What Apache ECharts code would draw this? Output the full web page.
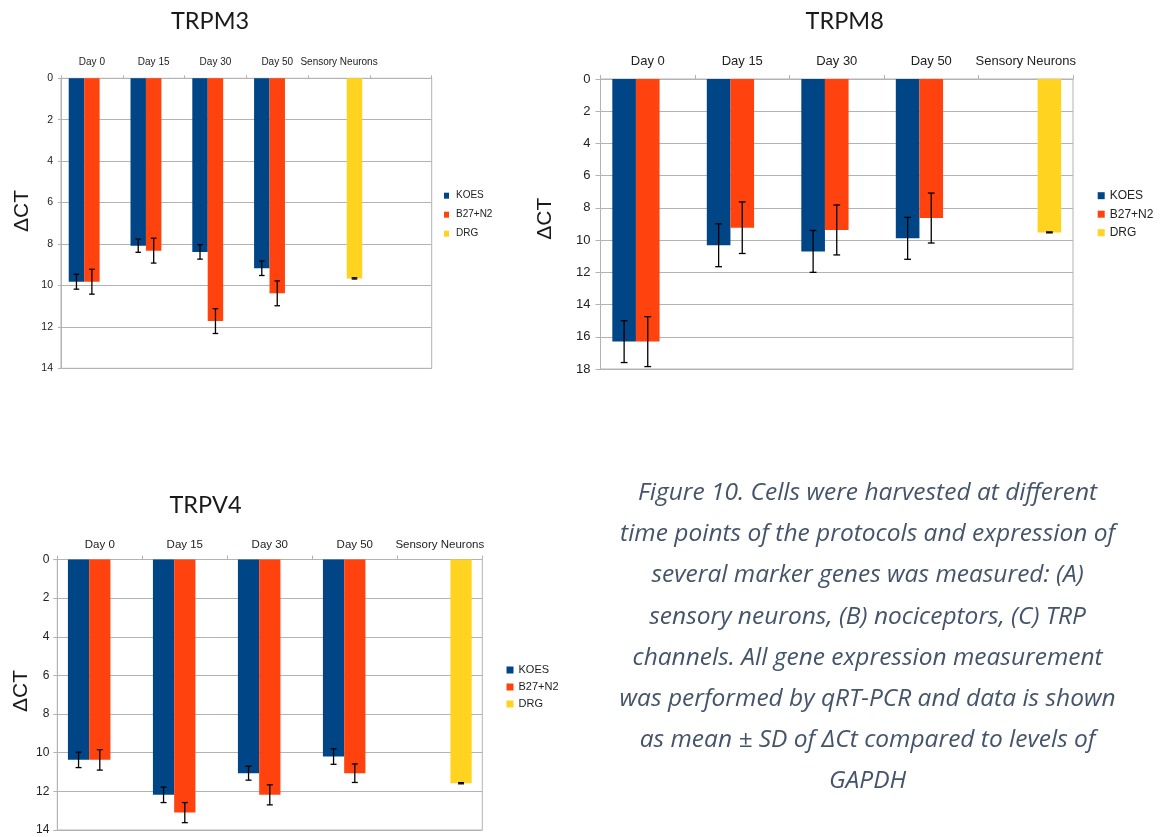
<!DOCTYPE html>
<html>
<head>
<meta charset="utf-8">
<script src="https://cdn.jsdelivr.net/npm/echarts@6/dist/echarts.min.js"></script>
<style>
html,body{margin:0;padding:0;background:#fff;}
#c{width:1166px;height:837px;}
</style>
</head>
<body>
<div id="c"></div>
<script>
// ---------- data ----------
const seriesNames = ['KOES', 'B27+N2', 'DRG'];
const categoriesM3 = ['Day 0', 'Day 15', 'Day 30', 'Day 50', 'Sensory Neurons', ''];
const categories = ['Day 0', 'Day 15', 'Day 30', 'Day 50', 'Sensory Neurons'];

// TRPM3 (mean ΔCT and SD)
const trpm3KOES = [9.82, 8.08, 8.38, 9.17, null, null];
const trpm3KOESsd = [0.36, 0.32, 0.35, 0.35, null, null];
const trpm3B27 = [9.82, 8.32, 11.72, 10.38, null, null];
const trpm3B27sd = [0.6, 0.6, 0.6, 0.6, null, null];
const trpm3DRG = [null, null, null, null, 9.66, null];
const trpm3DRGsd = [null, null, null, null, 0.03, null];

// TRPM8
const trpm8KOES = [16.3, 10.32, 10.7, 9.89, null];
const trpm8KOESsd = [1.3, 1.33, 1.3, 1.3, null];
const trpm8B27 = [16.3, 9.23, 9.37, 8.63, null];
const trpm8B27sd = [1.55, 1.6, 1.55, 1.55, null];
const trpm8DRG = [null, null, null, null, 9.52];
const trpm8DRGsd = [null, null, null, null, 0.03];

// TRPV4
const trpv4KOES = [10.37, 12.18, 11.06, 10.2, null];
const trpv4KOESsd = [0.4, 0.4, 0.36, 0.4, null];
const trpv4B27 = [10.37, 13.1, 12.18, 11.06, null];
const trpv4B27sd = [0.53, 0.52, 0.52, 0.48, null];
const trpv4DRG = [null, null, null, null, 11.58];
const trpv4DRGsd = [null, null, null, null, 0.03];

const yTicksM3 = {min: 0, max: 14, interval: 2};
const yTicksM8 = {min: 0, max: 18, interval: 2};
const yTicksV4 = {min: 0, max: 14, interval: 2};

const captionLines = [
  'Figure 10. Cells were harvested at different',
  'time points of the protocols and expression of',
  'several marker genes was measured: (A)',
  'sensory neurons, (B) nociceptors, (C) TRP',
  'channels. All gene expression measurement',
  'was performed by qRT-PCR and data is shown',
  'as mean ± SD of ΔCt compared to levels of',
  'GAPDH'
];

// ---------- styling ----------
const colors = ['#004586', '#ff420e', '#ffd320'];
const gridGray = '#b3b3b3';
const labelFont = 'Liberation Sans';

function errData(means, sds) {
  const out = [];
  means.forEach((arr, s) => {
    arr.forEach((m, i) => {
      if (m != null) out.push([i, m, sds[s][i], s]);
    });
  });
  return out;
}

function errRender(h, lw) {
  return function (params, api) {
    const cat = api.value(0), m = api.value(1), sd = api.value(2), s = api.value(3);
    const band = api.size([1, 0])[0];
    const c = api.coord([cat, m]);
    const x = c[0] + (s - 1) * band * 0.25;
    const y1 = api.coord([cat, m - sd])[1];
    const y2 = api.coord([cat, m + sd])[1];
    const st = {stroke: '#000', lineWidth: lw};
    return {
      type: 'group',
      children: [
        {type: 'line', shape: {x1: x, y1: y1, x2: x, y2: y2}, style: st},
        {type: 'line', shape: {x1: x - h, y1: y1, x2: x + h, y2: y1}, style: st},
        {type: 'line', shape: {x1: x - h, y1: y2, x2: x + h, y2: y2}, style: st}
      ]
    };
  };
}

const grids = [
  {left: 61, top: 78.3, width: 370.7, height: 290},
  {left: 600.5, top: 79, width: 472.5, height: 290},
  {left: 57.3, top: 559.5, width: 425, height: 270.5}
];

function xAx(idx, cats, fs, margin, tickLen) {
  return {
    type: 'category', gridIndex: idx, position: 'top', data: cats,
    axisLine: {show: true, lineStyle: {color: gridGray, width: 1}},
    axisTick: {show: true, length: tickLen, lineStyle: {color: gridGray}},
    axisLabel: {fontFamily: labelFont, fontSize: fs, color: '#222', margin: margin, interval: 0},
    splitLine: {show: false}
  };
}
function yAx(idx, t, fs, margin, tickLen) {
  return {
    type: 'value', gridIndex: idx, inverse: true, min: t.min, max: t.max, interval: t.interval,
    axisLine: {show: true, lineStyle: {color: gridGray, width: 1}},
    axisTick: {show: true, length: tickLen, lineStyle: {color: gridGray}},
    axisLabel: {fontFamily: labelFont, fontSize: fs, color: '#222', margin: margin},
    splitLine: {show: true, lineStyle: {color: gridGray, width: 1}}
  };
}

function barSeries(idx, arrs) {
  return arrs.map((d, s) => ({
    type: 'bar', name: seriesNames[s], xAxisIndex: idx, yAxisIndex: idx,
    data: d, barGap: '0%', barCategoryGap: '25%',
    itemStyle: {color: colors[s]}, silent: true
  }));
}

const series = [].concat(
  barSeries(0, [trpm3KOES, trpm3B27, trpm3DRG]),
  [{type: 'custom', xAxisIndex: 0, yAxisIndex: 0, z: 10, silent: true,
    renderItem: errRender(2.8, 1.3),
    data: errData([trpm3KOES, trpm3B27, trpm3DRG], [trpm3KOESsd, trpm3B27sd, trpm3DRGsd])}],
  barSeries(1, [trpm8KOES, trpm8B27, trpm8DRG]),
  [{type: 'custom', xAxisIndex: 1, yAxisIndex: 1, z: 10, silent: true,
    renderItem: errRender(3.4, 1.3),
    data: errData([trpm8KOES, trpm8B27, trpm8DRG], [trpm8KOESsd, trpm8B27sd, trpm8DRGsd])}],
  barSeries(2, [trpv4KOES, trpv4B27, trpv4DRG]),
  [{type: 'custom', xAxisIndex: 2, yAxisIndex: 2, z: 10, silent: true,
    renderItem: errRender(3, 1.3),
    data: errData([trpv4KOES, trpv4B27, trpv4DRG], [trpv4KOESsd, trpv4B27sd, trpv4DRGsd])}]
);

function legend(left, top, iw, ih, fs, lh, gap, pad) {
  return {
    data: seriesNames, orient: 'vertical', left: left, top: top, padding: 0,
    icon: 'rect', itemWidth: iw, itemHeight: ih, itemGap: gap,
    selectedMode: false,
    textStyle: {fontFamily: labelFont, fontSize: fs, color: '#222', lineHeight: lh, padding: [0, 0, 0, pad]}
  };
}

function titleText(x, y, txt) {
  return {type: 'text', x: x, y: y, style: {text: txt, fill: '#1a1a1a', font: '23.5px Lato', textAlign: 'center', textVerticalAlign: 'middle'}};
}
function dctText(x, y) {
  return {type: 'text', x: x, y: y, rotation: Math.PI / 2,
    style: {text: 'ΔCT', fill: '#1a1a1a', font: '21px "Liberation Sans"', textAlign: 'center', textVerticalAlign: 'middle'}};
}

const option = {
  animation: false,
  backgroundColor: '#fff',
  grid: grids.map(g => Object.assign({show: true, borderColor: gridGray, borderWidth: 1, backgroundColor: 'transparent', containLabel: false}, g)),
  xAxis: [xAx(0, categoriesM3, 10, 11, 3), xAx(1, categories, 13, 11, 4), xAx(2, categories, 11.5, 8.5, 4)],
  yAxis: [yAx(0, yTicksM3, 10.5, 8, 3), yAx(1, yTicksM8, 13, 10, 5), yAx(2, yTicksV4, 12, 8, 4)],
  legend: [
    legend(444, 189.7, 5, 6, 10, 12, 7, 2),
    legend(1097.7, 188.7, 7, 7, 12, 14, 4.5, 0),
    legend(506.5, 663.5, 7, 7, 11, 13, 4, 0)
  ],
  series: series,
  graphic: [
    titleText(210, 21, 'TRPM3'),
    titleText(844.7, 21, 'TRPM8'),
    titleText(205.5, 505, 'TRPV4'),
    dctText(22, 211),
    dctText(545.5, 218.7),
    dctText(21.5, 691),
    {type: 'text', x: 867.6, y: 472.4,
      style: {text: captionLines.join('\n'), fill: '#44546a', font: 'italic 24.5px "Open Sans"',
        textAlign: 'center', textVerticalAlign: 'top', lineHeight: 41.2}}
  ]
};

const chart = echarts.init(document.getElementById('c'), null, {renderer: 'canvas'});
chart.setOption(option);
</script>
</body>
</html>
